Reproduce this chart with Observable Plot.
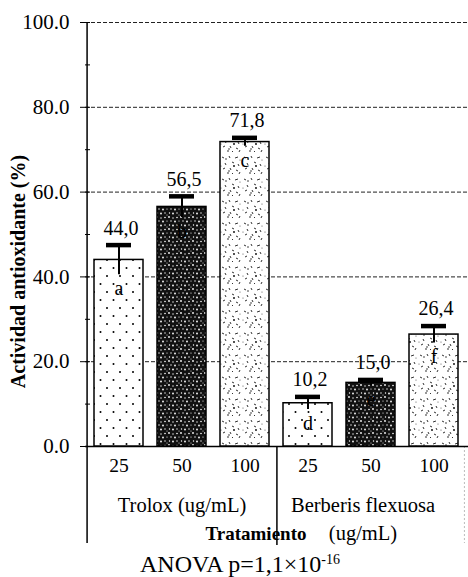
<!DOCTYPE html>
<html>
<head>
<meta charset="utf-8">
<script src="https://cdn.jsdelivr.net/npm/d3@7"></script>
<script src="https://cdn.jsdelivr.net/npm/@observablehq/plot@0.6"></script>
<style>
  html, body { margin: 0; padding: 0; background: #fff; }
  #chart svg { display: block; }
  #chart svg text { font-family: "Liberation Serif", "Times New Roman", serif; }
  #caption {
    font-family: "Liberation Serif", "Times New Roman", serif;
    font-size: 24px;
    line-height: 25px;
    height: 25px;
    width: 468px;
    text-align: center;
    padding-left: 12px;
    box-sizing: border-box;
    color: #000;
  }
  #caption sup { font-size: 14px; vertical-align: 8px; line-height: 0; }
</style>
</head>
<body>
<div id="chart"></div>
<div id="caption">ANOVA p=1,1×10<sup>-16</sup></div>
<script>
// Treatment groups and concentrations (ug/mL)
const groups = ["Trolox (ug/mL)", "Berberis flexuosa\n(ug/mL)"];
const concentrations = ["25", "50", "100"];
// Mean antioxidant activity (%) per bar, in group/concentration order
const values = [44.0, 56.5, 71.8, 10.2, 15.0, 26.4];
// Error bar half-lengths (%)
const errors = [3.5, 2.5, 1.0, 1.5, 0.7, 2.0];
// Significance letters
const letters = ["a", "b", "c", "d", "e", "f"];
// Y axis ticks
const yTicks = [0, 20, 40, 60, 80, 100];
const yMinorTicks = [10, 30, 50, 70, 90];
const xTitle = "Tratamiento";
const yTitle = "Actividad antioxidante (%)";

const rows = [];
groups.forEach((g, gi) => concentrations.forEach((c, ci) => {
  const i = gi * concentrations.length + ci;
  rows.push({key: g + "|" + c, group: g, conc: c, value: values[i], err: errors[i], letter: letters[i]});
}));
const keys = rows.map(d => d.key);
const groupRows = groups.map(g => ({key: g + "|" + concentrations[1], label: g}));

const comma = d3.formatLocale({decimal: ",", thousands: ".", grouping: [3], currency: ["", ""]}).format(".1f");

const W = 468, H = 552, ML = 85, MR = 0, MT = 22, MB = 106;
const plotW = W - ML - MR;
const step = plotW / keys.length;
const serif = '"Liberation Serif", "Times New Roman", serif';
const groupLabel = {frameAnchor: "bottom", lineAnchor: "top", dy: 46, lineHeight: 1.35, fontSize: 20.5, fontFamily: serif, fill: "#000"};

const chart = Plot.plot({
  width: W,
  height: H,
  marginLeft: ML,
  marginRight: MR,
  marginTop: MT,
  marginBottom: MB,
  style: {fontFamily: serif, fontSize: "18px", color: "#000", background: "#fff", overflow: "visible"},
  x: {domain: keys, paddingInner: 0.22, paddingOuter: 0.11, axis: null},
  y: {domain: [0, 100], axis: null},
  color: {domain: concentrations, range: ["url(#fillDots)", "url(#fillDark)", "url(#fillSpeckle)"]},
  marks: [
    // dashed horizontal grid
    Plot.ruleY(yTicks.filter(t => t > 0), {stroke: "#222", strokeWidth: 1, strokeDasharray: "4,2"}),
    // y axis line, extended down to enclose the category labels
    Plot.ruleX([keys[0]], {x: d => d, dx: -step / 2, insetBottom: -97, stroke: "#000", strokeWidth: 1.5}),
    // separators between treatment groups
    Plot.ruleX([keys[2]], {x: d => d, dx: step / 2, insetTop: H - MT - MB, insetBottom: -99, stroke: "#000", strokeWidth: 1.5}),
    Plot.ruleX([keys[5]], {x: d => d, dx: step / 2 - 1.5, insetTop: H - MT - MB, insetBottom: -97, stroke: "#bbb", strokeWidth: 1, strokeDasharray: "2,2"}),
    // baseline
    Plot.ruleY([0], {stroke: "#000", strokeWidth: 1.5}),
    // bars
    Plot.barY(rows, {x: "key", y: "value", fill: "conc", stroke: "#000", strokeWidth: 1.5}),
    // error bars
    Plot.ruleX(rows, {x: "key", y1: d => d.value - d.err, y2: d => d.value + d.err, stroke: "#000", strokeWidth: 2}),
    Plot.tickY(rows, {x: "key", y: d => d.value + d.err, stroke: "#000", strokeWidth: 4.5, insetLeft: 12, insetRight: 12}),
    // value labels
    Plot.text(rows, {x: "key", y: d => d.value + d.err, text: d => comma(d.value), dy: -17, dx: 2, fontSize: 20, fontFamily: serif, fill: "#000"}),
    // significance letters
    Plot.text(rows, {x: "key", y: d => d.value - d.err, text: "letter", dy: 14, fontSize: 20, fontFamily: serif, fill: "#000"}),
    // y axis: labels with outward ticks, plus short inward ticks
    Plot.axisY(yTicks, {label: null, tickFormat: d => d3.format(".1f")(d), tickSize: 5, tickPadding: 11, fontSize: 21, fontFamily: serif, stroke: "#000"}),
    Plot.tickY(yTicks.concat(yMinorTicks), {insetRight: plotW - 5, stroke: "#000", strokeWidth: 1}),
    // concentration labels
    Plot.text(rows, {x: "key", text: "conc", frameAnchor: "bottom", dy: 25, fontSize: 19.5, fontFamily: serif, fill: "#000"}),
    // group labels
    Plot.text(groupRows.slice(0, 1), {x: "key", text: "label", ...groupLabel}),
    Plot.text(groupRows.slice(1), {x: "key", text: "label", dx: -8, ...groupLabel}),
    // axis titles
    Plot.text([xTitle], {frameAnchor: "bottom", dx: -21, dy: 93, fontSize: 19, fontWeight: "bold", fontFamily: serif, fill: "#000"}),
    Plot.text([yTitle], {frameAnchor: "left", textAnchor: "middle", rotate: -90, dx: -67, dy: 37, fontSize: 20, fontWeight: "bold", fontFamily: serif, fill: "#000"})
  ]
});

// Fill textures for the three concentration levels
const defs = `
<defs>
  <pattern id="fillDots" patternUnits="userSpaceOnUse" width="13" height="16">
    <rect width="13" height="16" fill="#fff"/>
    <circle cx="3" cy="4" r="1" fill="#000"/>
    <circle cx="9.5" cy="12" r="1" fill="#000"/>
  </pattern>
  <pattern id="fillDark" patternUnits="userSpaceOnUse" width="12" height="12">
    <rect width="12" height="12" fill="#111"/>
    <circle cx="1" cy="1" r="0.9" fill="#fff"/>
    <circle cx="5" cy="2" r="0.7" fill="#fff"/>
    <circle cx="9" cy="1.5" r="0.8" fill="#fff"/>
    <circle cx="3" cy="5" r="0.7" fill="#fff"/>
    <circle cx="7" cy="5.5" r="0.9" fill="#fff"/>
    <circle cx="11" cy="5" r="0.6" fill="#fff"/>
    <circle cx="1.5" cy="9" r="0.7" fill="#fff"/>
    <circle cx="5" cy="9.5" r="0.9" fill="#fff"/>
    <circle cx="9" cy="9" r="0.7" fill="#fff"/>
    <circle cx="11" cy="11" r="0.5" fill="#fff"/>
  </pattern>
  <pattern id="fillSpeckle" patternUnits="userSpaceOnUse" width="22" height="22">
    <rect width="22" height="22" fill="#fff"/>
    <path d="M2 3 l2 1 M9 2 l1 2 M15 4 l3 -1 M5 9 l1 2 M12 8 l2 1 M18 10 l1 2 M3 15 l2 -1 M10 14 l1 2 M16 16 l2 1 M7 19 l2 0 M19 20 l1 -2 M13 19 l-1 1"
          stroke="#333" stroke-width="1" fill="none"/>
    <circle cx="6" cy="5" r="0.7" fill="#000"/>
    <circle cx="14" cy="12" r="0.9" fill="#000"/>
    <circle cx="20" cy="6" r="0.6" fill="#555"/>
    <circle cx="1" cy="12" r="0.6" fill="#555"/>
    <circle cx="9" cy="17" r="0.7" fill="#000"/>
  </pattern>
</defs>`;
chart.insertAdjacentHTML("afterbegin", defs);
document.getElementById("chart").appendChild(chart);
</script>
</body>
</html>
